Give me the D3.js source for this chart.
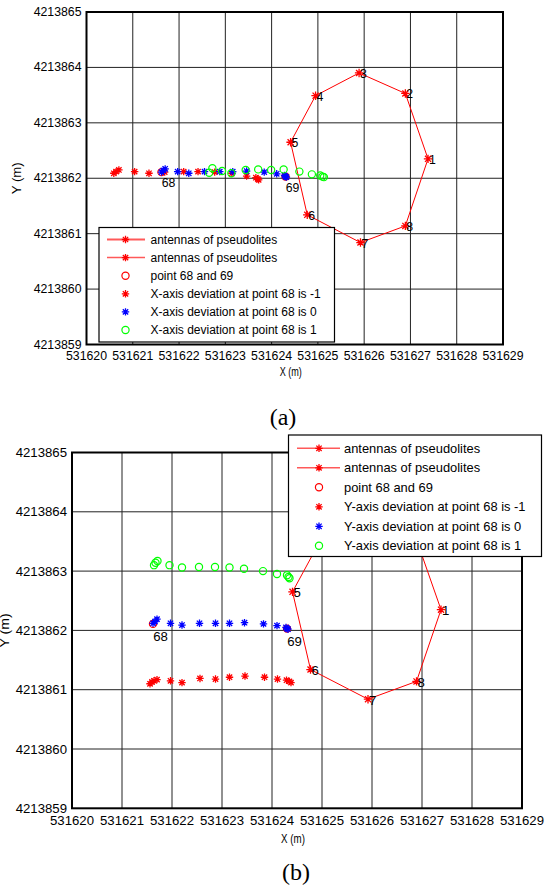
<!DOCTYPE html>
<html>
<head>
<meta charset="utf-8">
<script src="https://cdn.jsdelivr.net/npm/d3@7"></script>
<style>
    body { margin: 0; background: #fff; }
    svg { display: block; }
</style>
</head>
<body>
<div id="chart"></div>
<script>
// Tick values (both panels)
const xTickValues = [531620, 531621, 531622, 531623, 531624, 531625, 531626, 531627, 531628, 531629];
const yTickValues = [4213859, 4213860, 4213861, 4213862, 4213863, 4213864, 4213865];

// Antennas of pseudolites (closed polygon 1..8)
const antennaLabels = ["1", "2", "3", "4", "5", "6", "7", "8"];
const antennaX = [531627.38, 531626.89, 531625.89, 531624.95, 531624.41, 531624.77, 531625.92, 531626.89];
const antennaY = [4213862.35, 4213863.53, 4213863.90, 4213863.49, 4213862.65, 4213861.34, 4213860.84, 4213861.14];

// Point 68 and 69
const pointLabels = ["68", "69"];
const pointX = [531621.62, 531624.30];
const pointY = [4213862.11, 4213862.03];

// (a) X-axis deviation at point 68 is -1 / 0 / 1
const aRedX = [531620.59, 531620.64, 531620.70, 531621.04, 531621.35, 531621.69, 531622.10, 531622.41, 531622.77, 531623.14, 531623.46, 531623.66, 531623.70, 531623.72];
const aRedY = [4213862.09, 4213862.12, 4213862.15, 4213862.12, 4213862.09, 4213862.11, 4213862.12, 4213862.12, 4213862.11, 4213862.09, 4213862.04, 4213862.01, 4213861.99, 4213861.97];
const aBlueX = [531621.62, 531621.66, 531621.70, 531621.97, 531622.21, 531622.55, 531622.88, 531623.16, 531623.46, 531623.84, 531624.11, 531624.28, 531624.30, 531624.32];
const aBlueY = [4213862.11, 4213862.14, 4213862.17, 4213862.12, 4213862.09, 4213862.12, 4213862.12, 4213862.12, 4213862.13, 4213862.11, 4213862.08, 4213862.05, 4213862.03, 4213862.02];
const aGreenX = [531622.65, 531622.72, 531622.93, 531623.13, 531623.44, 531623.71, 531623.99, 531624.26, 531624.60, 531624.87, 531625.05, 531625.10, 531625.13];
const aGreenY = [4213862.10, 4213862.18, 4213862.13, 4213862.09, 4213862.15, 4213862.16, 4213862.15, 4213862.16, 4213862.12, 4213862.07, 4213862.05, 4213862.03, 4213862.02];

// (b) Y-axis deviation at point 68 is -1 / 0 / 1
const bRedX = [531621.56, 531621.60, 531621.64, 531621.70, 531621.97, 531622.20, 531622.56, 531622.87, 531623.15, 531623.46, 531623.85, 531624.11, 531624.29, 531624.35, 531624.38];
const bRedY = [4213861.10, 4213861.13, 4213861.15, 4213861.17, 4213861.15, 4213861.12, 4213861.19, 4213861.18, 4213861.21, 4213861.23, 4213861.21, 4213861.18, 4213861.16, 4213861.14, 4213861.12];
const bBlueX = [531621.62, 531621.66, 531621.70, 531621.97, 531622.20, 531622.55, 531622.87, 531623.15, 531623.45, 531623.83, 531624.10, 531624.28, 531624.30, 531624.32];
const bBlueY = [4213862.12, 4213862.15, 4213862.19, 4213862.12, 4213862.09, 4213862.12, 4213862.12, 4213862.12, 4213862.13, 4213862.11, 4213862.08, 4213862.05, 4213862.03, 4213862.02];
const bGreenX = [531621.64, 531621.67, 531621.71, 531621.95, 531622.20, 531622.54, 531622.86, 531623.15, 531623.44, 531623.82, 531624.10, 531624.30, 531624.33, 531624.35];
const bGreenY = [4213863.10, 4213863.14, 4213863.17, 4213863.10, 4213863.06, 4213863.07, 4213863.07, 4213863.06, 4213863.04, 4213863.00, 4213862.95, 4213862.93, 4213862.90, 4213862.88];

const legendA = ["antennas of pseudolites", "antennas of pseudolites", "point 68 and 69",
    "X-axis deviation at point 68 is -1", "X-axis deviation at point 68 is 0", "X-axis deviation at point 68 is 1"];
const legendB = ["antennas of pseudolites", "antennas of pseudolites", "point 68 and 69",
    "Y-axis deviation at point 68 is -1", "Y-axis deviation at point 68 is 0", "Y-axis deviation at point 68 is 1"];

const FONT = "'Liberation Sans', Arial, Helvetica, sans-serif";
const GREEN = "#00ff00";

const svg = d3.select("#chart")
    .append("svg")
    .attr("width", 549)
    .attr("height", 885);

// MATLAB style asterisk marker
function star(g, cx, cy, r, color) {
    const d = r * 0.72;
    const p = `M${cx - r},${cy}L${cx + r},${cy}M${cx},${cy - r}L${cx},${cy + r}` +
        `M${cx - d},${cy - d}L${cx + d},${cy + d}M${cx - d},${cy + d}L${cx + d},${cy - d}`;
    g.append("path").attr("d", p).attr("stroke", color).attr("stroke-width", 1.3).attr("fill", "none");
}
function ring(g, cx, cy, r, color) {
    g.append("circle").attr("cx", cx).attr("cy", cy).attr("r", r)
        .attr("fill", "none").attr("stroke", color).attr("stroke-width", 1.2);
}

function drawPanel(o) {
    const g = svg.append("g");
    const x = d3.scaleLinear().domain([531620, 531629]).range([o.left, o.right]);
    const y = d3.scaleLinear().domain([4213859, 4213865]).range([o.bottom, o.top]);

    // griglia
    g.selectAll(".gx").data(xTickValues.slice(1, -1)).join("line")
        .attr("x1", d => x(d)).attr("x2", d => x(d))
        .attr("y1", o.top).attr("y2", o.bottom)
        .attr("stroke", "#222").attr("stroke-width", 1);
    g.selectAll(".gy").data(yTickValues.slice(1, -1)).join("line")
        .attr("x1", o.left).attr("x2", o.right)
        .attr("y1", d => y(d)).attr("y2", d => y(d))
        .attr("stroke", "#222").attr("stroke-width", 1);

    // etichette assi
    g.selectAll(".tx").data(xTickValues).join("text")
        .attr("x", d => x(d)).attr("y", o.bottom + o.fs * 0.9)
        .attr("text-anchor", "middle").attr("dominant-baseline", "central")
        .style("font-family", FONT).style("font-size", o.fs + "px")
        .text(d => d);
    g.selectAll(".ty").data(yTickValues).join("text")
        .attr("x", o.left - 5).attr("y", d => y(d))
        .attr("text-anchor", "end").attr("dominant-baseline", "central")
        .style("font-family", FONT).style("font-size", o.fs + "px")
        .text(d => d);

    g.append("text")
        .attr("x", (o.left + o.right) / 2 - 4).attr("y", o.bottom + o.fs * 2.25)
        .attr("text-anchor", "middle").attr("dominant-baseline", "central")
        .attr("textLength", o.fs * 1.8).attr("lengthAdjust", "spacingAndGlyphs")
        .style("font-family", FONT).style("font-size", o.fs + "px")
        .text("X (m)");
    g.append("text")
        .attr("transform", `translate(${o.ylabX},${(o.top + o.bottom) / 2}) rotate(-90)`)
        .attr("text-anchor", "middle").attr("dominant-baseline", "central")
        .attr("textLength", o.fs * 2.6).attr("lengthAdjust", "spacingAndGlyphs")
        .style("font-family", FONT).style("font-size", o.fs + "px")
        .text("Y (m)");

    // poligono delle antenne
    const ant = antennaX.map((v, i) => [x(v), y(antennaY[i])]);
    g.append("path")
        .attr("d", d3.line()(ant.concat([ant[0]])))
        .attr("fill", "none").attr("stroke", "red").attr("stroke-width", 1);
    ant.forEach(p => star(g, p[0], p[1], 4.2, "red"));
    g.selectAll(".al").data(antennaLabels).join("text")
        .attr("x", (d, i) => ant[i][0] + 1).attr("y", (d, i) => ant[i][1] + 1)
        .attr("dominant-baseline", "central")
        .style("font-family", FONT).style("font-size", o.fs + "px")
        .text(d => d);

    // punti 68 e 69
    pointX.forEach((v, i) => ring(g, x(v), y(pointY[i]), 3.6, "red"));

    // serie
    o.red[0].forEach((v, i) => star(g, x(v), y(o.red[1][i]), 3.7, "red"));
    o.blue[0].forEach((v, i) => star(g, x(v), y(o.blue[1][i]), 3.7, "blue"));
    o.green[0].forEach((v, i) => ring(g, x(v), y(o.green[1][i]), 3.6, GREEN));

    g.selectAll(".pl").data(pointLabels).join("text")
        .attr("x", (d, i) => x(pointX[i]) + o.lab[0]).attr("y", (d, i) => y(pointY[i]) + o.lab[1])
        .attr("text-anchor", "middle").attr("dominant-baseline", "central")
        .style("font-family", FONT).style("font-size", o.fs + "px")
        .text(d => d);

    // bordo
    g.append("rect")
        .attr("x", o.left).attr("y", o.top)
        .attr("width", o.right - o.left).attr("height", o.bottom - o.top)
        .attr("fill", "none").attr("stroke", "#000").attr("stroke-width", 2);

    // legenda
    const L = o.leg;
    const lg = svg.append("g");
    lg.append("rect")
        .attr("x", L.x0).attr("y", L.y0)
        .attr("width", L.x1 - L.x0).attr("height", L.y1 - L.y0)
        .attr("fill", "white").attr("stroke", "#000").attr("stroke-width", 1.2);
    o.legend.forEach((t, i) => {
        const cy = L.row0 + i * L.dy;
        if (i < 2) {
            lg.append("line").attr("x1", L.lx0).attr("x2", L.lx1).attr("y1", cy).attr("y2", cy)
                .attr("stroke", "red").attr("stroke-opacity", 0.65).attr("stroke-width", i == 0 && L.thick ? 2 : 1.5);
            star(lg, L.mx, cy, 3.7, "red");
        } else if (i == 2) ring(lg, L.mx, cy, 3.6, "red");
        else if (i == 3) star(lg, L.mx, cy, 3.7, "red");
        else if (i == 4) star(lg, L.mx, cy, 3.7, "blue");
        else ring(lg, L.mx, cy, 3.6, GREEN);
        lg.append("text")
            .attr("x", L.tx).attr("y", cy)
            .attr("dominant-baseline", "central")
            .style("font-family", FONT).style("font-size", L.fs + "px")
            .text(t);
    });

    // didascalia
    svg.append("text")
        .attr("x", o.cap[0]).attr("y", o.cap[1])
        .attr("text-anchor", "middle").attr("dominant-baseline", "central")
        .style("font-family", "'Liberation Serif', 'Times New Roman', serif")
        .style("font-size", "24px")
        .text(o.caption);
}

// Pannello (a)
drawPanel({
    left: 86.5, right: 503, top: 12, bottom: 344.5, fs: 12.3, ylabX: 17,
    red: [aRedX, aRedY], blue: [aBlueX, aBlueY], green: [aGreenX, aGreenY],
    lab: [7, 11], legend: legendA,
    leg: { x0: 99, x1: 334.5, y0: 227.5, y1: 342, row0: 239.5, dy: 18.1, lx0: 107, lx1: 145, mx: 125.5, tx: 150.5, fs: 12, thick: true },
    cap: [283, 416.5], caption: "(a)"
});

// Pannello (b)
drawPanel({
    left: 72, right: 522, top: 452.5, bottom: 808.3, fs: 13.2, ylabX: 4,
    red: [bRedX, bRedY], blue: [bBlueX, bBlueY], green: [bGreenX, bGreenY],
    lab: [7.5, 12.5], legend: legendB,
    leg: { x0: 288.5, x1: 541.5, y0: 435, y1: 556.5, row0: 448.3, dy: 19.5, lx0: 297, lx1: 340, mx: 319, tx: 344, fs: 12.9, thick: false },
    cap: [296, 871.5], caption: "(b)"
});
</script>
</body>
</html>
